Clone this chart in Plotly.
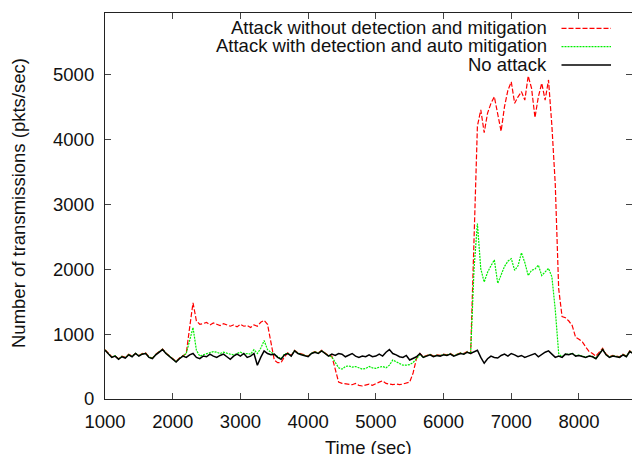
import plotly.graph_objects as go

# ---- data ----
time_s = list(range(1000, 8801, 50))

no_attack = [
    750, 690, 640, 660, 610, 650, 630, 680, 650, 700,
    660, 690, 700, 640, 620, 680, 720, 760, 700, 660,
    610, 570, 620, 660, 640, 680, 700, 640, 620, 660,
    650, 690, 660, 640, 670, 690, 650, 610, 660, 690,
    660, 700, 640, 660, 700, 520, 640, 740, 700, 680,
    690, 640, 610, 680, 700, 660, 740, 700, 680, 660,
    650, 700, 720, 700, 740, 700, 660, 690, 670, 700,
    690, 650, 680, 700, 660, 640, 660, 650, 680, 650,
    660, 690, 660, 720, 760, 700, 680, 650, 640, 670,
    600, 620, 650, 700, 640, 660, 680, 650, 670, 660,
    680, 670, 690, 660, 680, 700, 690, 720, 700, 730,
    750, 640, 550, 620, 660, 640, 630, 670, 690, 660,
    700, 680, 650, 670, 640, 660, 680, 700, 650, 690,
    720, 740, 690, 640, 660, 640, 690, 680, 700, 660,
    670, 650, 640, 660, 650, 620, 700, 760, 680, 640,
    660, 650, 640, 680, 650, 730, 700,
]

attack_no_mitigation = [
    760, 700, 650, 660, 620, 660, 640, 690, 660, 700,
    670, 700, 710, 650, 630, 690, 730, 770, 710, 670,
    620, 580, 630, 670, 700, 1100, 1480, 1200, 1150, 1160,
    1180, 1140, 1170, 1150, 1130, 1160, 1140, 1120, 1140, 1110,
    1150, 1120, 1130, 1100, 1140, 1120, 1180, 1210, 1150, 850,
    600, 560, 560, 650, 710, 670, 750, 710, 690, 670,
    660, 710, 730, 710, 750, 710, 670, 660, 450, 260,
    240, 230, 230, 220, 240, 210, 200, 220, 230, 210,
    240, 260, 280, 240, 230, 220, 230, 220, 230, 240,
    260, 400, 620, 700, 650, 670, 690, 660, 680, 670,
    690, 680, 700, 670, 690, 710, 700, 730, 700, 2600,
    4200, 4450, 4100, 4400, 4550, 4650, 4400, 4120, 4500, 4750,
    4880, 4550, 4650, 4730, 4600, 4970, 4780, 4330, 4650, 4860,
    4600, 4910, 4200, 3300, 1700, 1270, 1250, 1200, 1130, 950,
    920, 880, 800, 730, 700, 660, 720, 780, 690, 650,
    670, 660, 650, 690, 660, 740, 710,
]

attack_auto_mitigation = [
    755, 695, 645, 665, 615, 655, 635, 685, 655, 705,
    665, 695, 705, 645, 625, 685, 725, 765, 705, 665,
    615, 575, 625, 665, 700, 900, 1100, 750, 660, 680,
    700, 720, 730, 720, 700, 720, 700, 690, 680, 700,
    720, 690, 700, 690, 760, 700, 780, 900, 760, 720,
    690, 650, 620, 690, 705, 665, 745, 705, 685, 665,
    655, 705, 725, 705, 745, 705, 665, 650, 560, 480,
    460, 500, 510, 490, 500, 480, 460, 470, 500, 480,
    470, 490, 500, 480, 520, 600, 570, 540, 520, 520,
    530, 560, 620, 680, 645, 665, 685, 655, 675, 665,
    685, 675, 695, 665, 685, 705, 695, 725, 700, 2000,
    2700, 2000, 1800, 1950, 2050, 2140, 1780, 1900, 2040, 2120,
    2160, 1980, 2050, 2250, 2100, 1900, 1980, 2000, 2060, 1900,
    1950, 2010, 1880, 1370, 700, 645, 695, 685, 705, 665,
    675, 655, 645, 665, 655, 625, 705, 765, 685, 645,
    665, 655, 645, 685, 655, 735, 705,
]

series_names = [
    "Attack without detection and mitigation",
    "Attack with detection and auto mitigation",
    "No attack",
]
x_ticks = [1000, 2000, 3000, 4000, 5000, 6000, 7000, 8000]
y_ticks = [0, 1000, 2000, 3000, 4000, 5000]

assert len(time_s) == len(no_attack) == len(attack_no_mitigation) == len(attack_auto_mitigation)

# ---- layout constants ----
W, H = 632, 454
ML, MR, MT, MB = 105, 0, 13, 55
PW, PH = W - ML - MR, H - MT - MB
FONT = "Liberation Sans, Arial, Helvetica, sans-serif"
FS = 18.5

def px(xp):
    return (xp - ML) / PW

def py(yp):
    return 1 - (yp - MT) / PH

styles = [
    dict(color="#ff0000", width=1.2, dash="5px,2px"),
    dict(color="#00ee00", width=1.2, dash="2px,1px"),
    dict(color="#000000", width=1.5, dash="solid"),
]
values = [attack_no_mitigation, attack_auto_mitigation, no_attack]

fig = go.Figure()
for name, vals, st in zip(series_names, values, styles):
    fig.add_trace(go.Scatter(x=time_s, y=vals, mode="lines", name=name,
                             line=st, showlegend=False, hoverinfo="skip"))
# empty trace to activate the right-hand mirror tick axis
fig.add_trace(go.Scatter(x=[], y=[], yaxis="y2", showlegend=False))

axis_common = dict(
    ticks="inside", ticklen=6, tickwidth=1, tickcolor="#444",
    showgrid=False, zeroline=False,
    tickfont=dict(family=FONT, size=FS, color="#111"),
)
fig.update_layout(
    width=W, height=H,
    margin=dict(l=ML, r=MR, t=MT, b=MB, pad=0),
    paper_bgcolor="white", plot_bgcolor="white",
    showlegend=False,
    xaxis=dict(range=[1000, 8783], tickvals=x_ticks, showline=True,
               linecolor="#222", linewidth=1.2, mirror="ticks",
               ticklabelstandoff=6, **axis_common),
    yaxis=dict(range=[0, 5940], tickvals=y_ticks, showline=True,
               linecolor="#222", linewidth=1.2, mirror=False,
               ticklabelstandoff=6, **axis_common),
    yaxis2=dict(range=[0, 5940], tickvals=y_ticks, overlaying="y", side="right",
                showline=False, showticklabels=False, **axis_common),
)

annotations = [
    dict(text="Time (sec)", x=0.5, xref="paper", y=0, yref="paper",
         yanchor="top", yshift=-36, showarrow=False,
         font=dict(family=FONT, size=FS, color="#111")),
    dict(text="Number of transmissions (pkts/sec)", x=px(18), xref="paper",
         y=py(203), yref="paper", textangle=-90, showarrow=False,
         xanchor="center", yanchor="middle",
         font=dict(family=FONT, size=FS, color="#111")),
]
shapes = []
legend_rows = [28.3, 46.7, 65.0]
for name, st, yr in zip(series_names, styles, legend_rows):
    annotations.append(dict(text=name, x=px(549), xref="paper", y=py(yr - 0.7),
                            yref="paper", xanchor="right", yanchor="middle",
                            showarrow=False,
                            font=dict(family=FONT, size=FS, color="#111")))
    shapes.append(dict(type="line", xref="paper", yref="paper",
                       x0=px(561.5), x1=px(611), y0=py(yr), y1=py(yr),
                       line=st))
fig.update_layout(annotations=annotations, shapes=shapes)

fig.write_html("out.html")
